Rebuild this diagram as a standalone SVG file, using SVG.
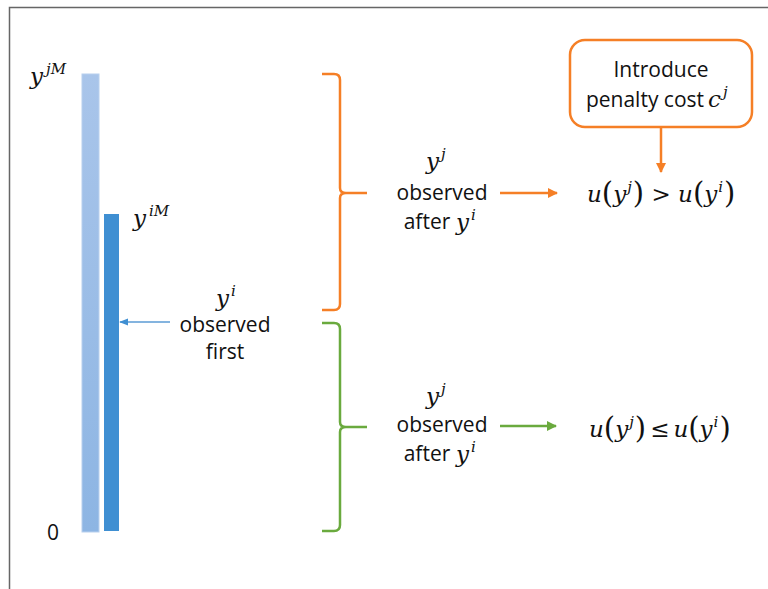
<svg xmlns="http://www.w3.org/2000/svg" width="768" height="589" viewBox="0 0 768 589">
<style>
.t{font-family:"Open Sans","Liberation Sans",sans-serif;font-size:21px;fill:#111;text-anchor:middle}
.m{font-family:"DejaVu Serif","Liberation Serif",serif;font-style:italic;font-size:23px;fill:#111}
.sup{font-size:15px}
.mr{font-family:"DejaVu Serif","Liberation Serif",serif;font-size:29px;font-style:normal;fill:#111}
.or{stroke:#F57F26;fill:none;stroke-width:2.5}
.gr{stroke:#6AAA3E;fill:none;stroke-width:2.5}
</style>
<defs>
<linearGradient id="lb" x1="0" y1="0" x2="0" y2="1">
<stop offset="0" stop-color="#A9C5EA"/>
<stop offset="1" stop-color="#8DB5E3"/>
</linearGradient>
<marker id="ao" viewBox="0 0 10 10" refX="9" refY="5" markerWidth="4" markerHeight="4" orient="auto"><path d="M0,0 L10,5 L0,10 z" fill="#F57F26"/></marker>
<marker id="ag" viewBox="0 0 10 10" refX="9" refY="5" markerWidth="4" markerHeight="4" orient="auto"><path d="M0,0 L10,5 L0,10 z" fill="#6AAA3E"/></marker>
<marker id="ab" viewBox="0 0 10 10" refX="9" refY="5" markerWidth="7" markerHeight="7" orient="auto"><path d="M0,1 L10,5 L0,9 z" fill="#3F8FD2"/></marker>
</defs>
<rect width="768" height="589" fill="#fff"/>
<path d="M768,7.5 H9.5 V589" fill="none" stroke="#666" stroke-width="1.5"/>

<g id="bar-j">
<rect x="82" y="74" width="17" height="458" fill="url(#lb)" stroke="#B8D0EE" stroke-width="1"/>
<text class="m" x="30" y="84">y<tspan class="sup" dx="3" dy="-10">jM</tspan></text>
</g>
<g id="bar-i">
<rect x="104" y="214" width="15" height="317" fill="#3F8FD2"/>
<text class="m" x="133" y="226">y<tspan class="sup" dx="3" dy="-10">iM</tspan></text>
</g>
<g id="zero"><text class="t" x="53" y="540">0</text></g>

<g id="first">
<text class="m" x="216" y="306">y<tspan class="sup" dx="2" dy="-10">i</tspan></text>
<text class="t" x="225" y="332">observed</text>
<text class="t" x="225" y="359">first</text>
</g>

<g id="brace-orange"><path class="or" d="M322,74 H334 Q340,74 340,80 V188 Q340,193 346,193 H367 M346,193 Q340,193 340,198 V304 Q340,310 334,310 H322"/></g>
<g id="brace-green"><path class="gr" d="M322,323 H334 Q340,323 340,329 V422 Q340,427 346,427 H367 M346,427 Q340,427 340,432 V525 Q340,531 334,531 H322"/></g>

<g id="upper-label">
<text class="m" x="426" y="169">y<tspan class="sup" dx="2" dy="-10">j</tspan></text>
<text class="t" x="442" y="200">observed</text>
<text class="t" x="427" y="229">after</text>
<text class="m" x="456" y="230">y<tspan class="sup" dx="2" dy="-10">i</tspan></text>
</g>
<g id="lower-label">
<text class="m" x="426" y="404">y<tspan class="sup" dx="2" dy="-10">j</tspan></text>
<text class="t" x="442" y="432">observed</text>
<text class="t" x="427" y="461">after</text>
<text class="m" x="456" y="462">y<tspan class="sup" dx="2" dy="-10">i</tspan></text>
</g>

<g id="penalty">
<rect x="570" y="40" width="182" height="87" rx="15" fill="#fff" stroke="#F57F26" stroke-width="2.5"/>
<text class="t" x="661" y="77">Introduce</text>
<text class="t" x="645" y="107">penalty cost</text>
<text class="m" x="708" y="107">c<tspan class="sup" dx="2" dy="-10">j</tspan></text>
</g>

<g id="ineq-upper"><text class="m" x="587" y="202">u<tspan class="mr" dy="1">(</tspan><tspan dy="-1">y</tspan><tspan class="sup" dx="1" dy="-10">j</tspan><tspan class="mr" dx="1" dy="11">)</tspan><tspan style="font-style:normal" dy="-1"> &gt; </tspan>u<tspan class="mr" dy="1">(</tspan><tspan dy="-1">y</tspan><tspan class="sup" dx="1" dy="-10">i</tspan><tspan class="mr" dx="1" dy="11">)</tspan></text></g>
<g id="ineq-lower"><text class="m" x="589" y="437">u<tspan class="mr" dy="1">(</tspan><tspan dy="-1">y</tspan><tspan class="sup" dx="1" dy="-10">j</tspan><tspan class="mr" dx="1" dy="11">)</tspan><tspan style="font-style:normal" dx="4" dy="-1">≤</tspan><tspan dx="4">u</tspan><tspan class="mr" dy="1">(</tspan><tspan dy="-1">y</tspan><tspan class="sup" dx="1" dy="-10">i</tspan><tspan class="mr" dx="1" dy="11">)</tspan></text></g>

<g id="connectors">
<line x1="170" y1="322" x2="120" y2="322" stroke="#5B9BD5" stroke-width="1.3" marker-end="url(#ab)"/>
<line x1="500" y1="193" x2="557" y2="193" class="or" marker-end="url(#ao)"/>
<line x1="500" y1="426" x2="556" y2="426" class="gr" marker-end="url(#ag)"/>
<line x1="661" y1="127" x2="661" y2="172" class="or" marker-end="url(#ao)"/>
</g>
</svg>
